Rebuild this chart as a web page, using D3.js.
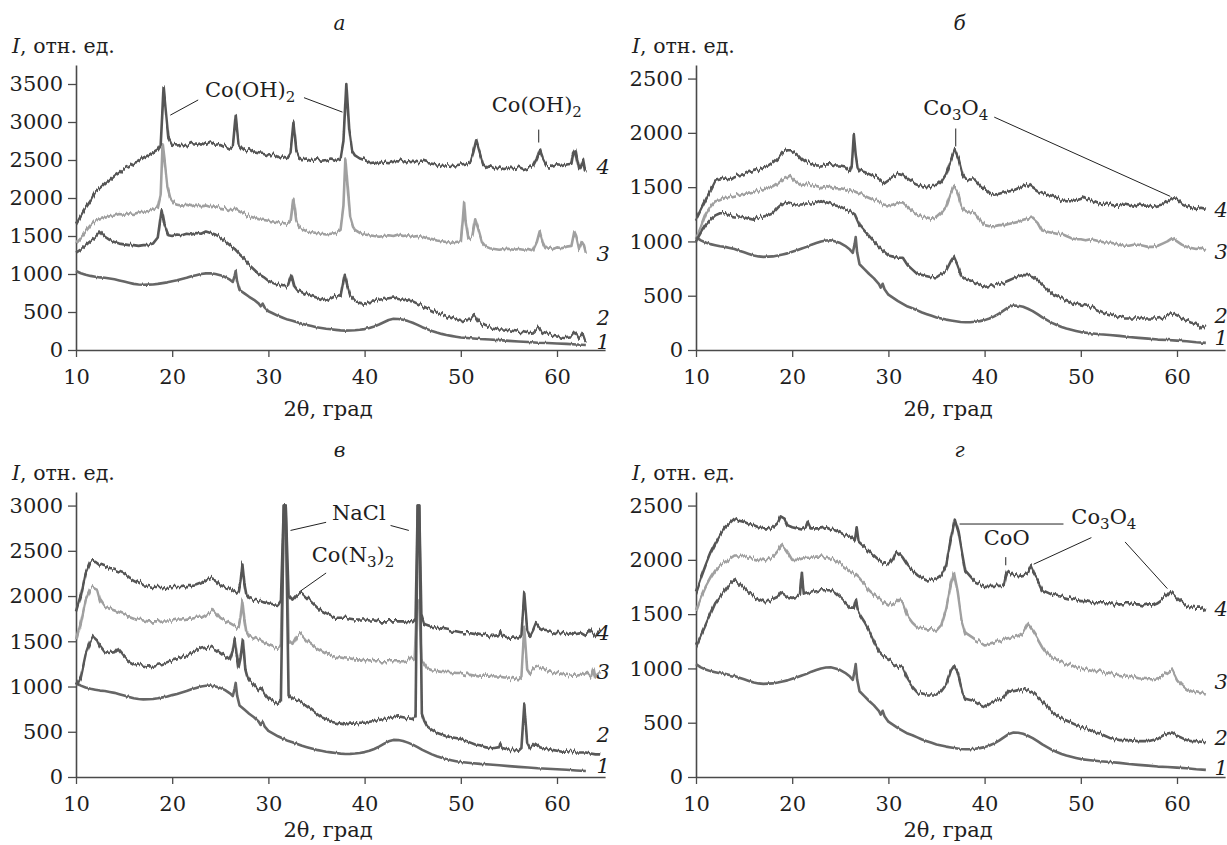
<!DOCTYPE html>
<html>
<head>
<meta charset="utf-8">
<script src="https://d3js.org/d3.v7.min.js"></script>
<style>
  body { margin: 0; background: #fff; }
  svg { display: block; }
  text { font-family: "DejaVu Serif", "Liberation Serif", serif; fill: #1e1e1e; }
</style>
</head>
<body>
<svg id="chart" width="1227" height="845"></svg>
<script>
// ---------- diffraction patterns: [2θ (deg), intensity (rel. units)] ----------

// curve 1 — the same reference pattern shown in every panel
const curve1 = [[10,1040],[10.5,1010],[11,990],[11.5,975],[12,965],[12.5,955],[13,950],[13.5,940],[14,930],[14.5,915],[15,900],[15.5,885],[16,870],[16.5,862],[17,858],[17.5,860],[18,862],[18.5,870],[19,880],[19.5,890],[20,905],[20.5,918],[21,935],[21.5,950],[22,970],[22.5,985],[23,1000],[23.5,1008],[24,1010],[24.5,1000],[25,985],[25.5,960],[26,925],[26.3,895],[26.5,980],[26.6,1040],[26.75,900],[27,790],[27.5,745],[28,700],[28.5,660],[29,610],[29.2,575],[29.4,610],[29.6,560],[30,510],[30.5,480],[31,450],[31.5,425],[32,400],[32.5,385],[33,365],[33.5,345],[34,330],[34.5,315],[35,300],[35.5,290],[36,280],[36.5,272],[37,265],[37.5,258],[38,255],[38.5,256],[39,260],[39.5,266],[40,275],[40.5,290],[41,310],[41.5,335],[42,365],[42.5,395],[43,410],[43.5,408],[44,398],[44.5,380],[45,358],[45.5,330],[46,300],[46.5,275],[47,250],[47.5,230],[48,212],[48.5,198],[49,186],[49.5,175],[50,165],[51,155],[52,145],[53,138],[54,130],[55,120],[56,112],[57,105],[58,96],[59,92],[60,86],[61,80],[62,72],[63,66]];

// panel а
const a2 = [[10,1280],[10.5,1320],[11,1380],[11.5,1430],[12,1480],[12.5,1560],[13,1490],[13.5,1450],[14,1420],[14.5,1400],[15,1390],[15.5,1380],[16,1380],[16.5,1370],[17,1380],[17.5,1380],[18,1400],[18.5,1480],[18.9,1850],[19.2,1650],[19.6,1510],[20,1500],[20.5,1520],[21,1510],[21.5,1530],[22,1520],[22.5,1540],[23,1530],[23.5,1560],[24,1540],[24.5,1520],[25,1480],[25.5,1430],[26,1380],[26.5,1330],[27,1260],[27.5,1200],[28,1120],[28.5,1060],[29,1000],[29.5,960],[30,910],[30.5,880],[31,860],[31.5,840],[32,840],[32.4,990],[32.7,840],[33,790],[33.5,760],[34,730],[34.5,710],[35,690],[35.5,670],[36,650],[36.5,680],[37,710],[37.5,700],[37.8,900],[37.95,990],[38.2,850],[38.5,720],[39,650],[39.5,620],[40,610],[40.5,630],[41,640],[41.5,660],[42,670],[42.5,680],[43,690],[43.5,670],[44,660],[44.5,650],[45,640],[45.5,610],[46,580],[46.5,550],[47,520],[47.5,490],[48,470],[48.5,450],[49,420],[49.5,400],[50,380],[50.5,390],[51,400],[51.4,460],[51.8,380],[52.2,340],[52.5,320],[53,300],[53.5,290],[54,270],[54.5,270],[55,260],[55.5,250],[56,240],[56.5,235],[57,220],[57.5,230],[58.1,300],[58.5,240],[59,220],[59.5,200],[60,190],[60.5,175],[61,170],[61.5,180],[61.8,230],[62.1,200],[62.3,150],[62.5,170],[62.7,210],[62.9,140],[63,120]];
const a3 = [[10,1400],[10.5,1470],[11,1560],[11.5,1640],[12,1700],[12.5,1720],[13,1740],[13.5,1760],[14,1770],[14.5,1790],[15,1780],[15.5,1800],[16,1790],[16.5,1810],[17,1820],[17.5,1830],[18,1850],[18.5,1880],[18.8,2050],[19.0,2720],[19.2,2500],[19.5,2150],[19.8,2000],[20.2,1930],[20.5,1910],[21,1900],[21.5,1910],[22,1890],[22.5,1910],[23,1890],[23.5,1900],[24,1880],[24.5,1890],[25,1870],[25.5,1860],[26,1840],[26.5,1860],[27,1820],[27.5,1790],[28,1760],[28.5,1740],[29,1720],[29.5,1710],[30,1700],[30.5,1690],[31,1680],[31.5,1670],[32,1660],[32.3,1700],[32.6,1990],[32.9,1700],[33.2,1620],[33.5,1590],[34,1560],[34.5,1550],[35,1540],[35.5,1530],[36,1520],[36.5,1530],[37,1540],[37.5,1580],[37.8,1900],[38.0,2520],[38.2,2200],[38.5,1750],[38.8,1620],[39,1580],[39.5,1540],[40,1520],[40.5,1510],[41,1500],[41.5,1490],[42,1500],[42.5,1510],[43,1500],[43.5,1520],[44,1500],[44.5,1510],[45,1490],[45.5,1500],[46,1490],[46.5,1470],[47,1460],[47.5,1440],[48,1430],[48.5,1420],[49,1410],[49.5,1420],[50,1430],[50.2,1700],[50.35,1950],[50.5,1700],[50.8,1460],[51.2,1500],[51.5,1720],[51.8,1600],[52.2,1420],[52.6,1360],[53,1340],[53.5,1330],[54,1320],[54.5,1330],[55,1330],[55.5,1320],[56,1330],[56.5,1320],[57,1330],[57.5,1310],[57.9,1420],[58.2,1560],[58.5,1420],[58.8,1340],[59.2,1350],[59.6,1330],[60,1350],[60.5,1340],[61,1360],[61.5,1370],[61.8,1560],[62.0,1500],[62.3,1330],[62.6,1420],[62.8,1380],[63,1280]];
const a4 = [[10,1650],[10.5,1760],[11,1870],[11.5,1960],[12,2080],[12.5,2120],[13,2180],[13.5,2230],[14,2290],[14.5,2330],[15,2390],[15.5,2420],[16,2460],[16.5,2480],[17,2530],[17.5,2560],[18,2600],[18.5,2640],[18.8,2700],[19.0,3200],[19.1,3470],[19.3,3200],[19.6,2800],[20,2700],[20.5,2690],[21,2700],[21.5,2680],[22,2710],[22.5,2700],[23,2720],[23.5,2700],[24,2730],[24.5,2700],[25,2710],[25.5,2680],[26,2650],[26.3,2680],[26.6,3080],[26.9,2700],[27.2,2650],[27.5,2620],[28,2640],[28.5,2600],[29,2590],[29.5,2580],[30,2560],[30.5,2570],[31,2540],[31.5,2560],[32,2540],[32.3,2600],[32.6,2990],[32.9,2620],[33.2,2530],[33.5,2510],[34,2520],[34.5,2500],[35,2510],[35.5,2490],[36,2500],[36.5,2520],[37,2500],[37.5,2520],[37.8,2750],[38.1,3500],[38.4,2900],[38.7,2620],[39,2560],[39.5,2520],[40,2500],[40.5,2470],[41,2480],[41.5,2460],[42,2480],[42.5,2470],[43,2490],[43.5,2480],[44,2500],[44.5,2480],[45,2490],[45.5,2470],[46,2480],[46.5,2460],[47,2450],[47.5,2440],[48,2420],[48.5,2430],[49,2420],[49.5,2430],[50,2440],[50.5,2450],[51,2480],[51.3,2600],[51.6,2760],[51.9,2620],[52.3,2450],[52.7,2400],[53,2420],[53.5,2390],[54,2400],[54.5,2380],[55,2400],[55.5,2390],[56,2410],[56.5,2380],[57,2400],[57.5,2420],[57.9,2520],[58.2,2630],[58.5,2520],[58.9,2420],[59.5,2410],[60,2430],[60.5,2420],[61,2440],[61.5,2450],[61.7,2600],[61.9,2640],[62.1,2500],[62.3,2380],[62.5,2420],[62.7,2490],[62.9,2350],[63,2380]];

// panel б
const b2 = [[10,1000],[10.5,1080],[11,1150],[11.5,1200],[12,1240],[12.5,1260],[13,1260],[13.5,1240],[14,1230],[14.5,1230],[15,1220],[15.5,1210],[16,1200],[16.5,1220],[17,1230],[17.5,1240],[18,1260],[18.5,1310],[19,1350],[19.5,1360],[20,1350],[20.5,1340],[21,1340],[21.5,1350],[22,1350],[22.5,1360],[23,1380],[23.5,1360],[24,1350],[24.5,1330],[25,1320],[25.5,1300],[26,1280],[26.5,1250],[27,1150],[27.5,1100],[28,1050],[28.5,1000],[29,950],[29.5,910],[30,870],[30.5,860],[31,850],[31.5,850],[32,780],[32.5,740],[33,700],[33.5,690],[34,680],[34.5,670],[35,670],[35.5,700],[36,730],[36.5,820],[36.8,860],[37.2,780],[37.6,680],[38,650],[38.5,640],[39,620],[39.5,600],[40,580],[40.5,590],[41,600],[41.5,610],[42,620],[42.5,640],[43,660],[43.5,680],[44,690],[44.5,690],[45,680],[45.5,640],[46,600],[46.5,560],[47,520],[47.5,500],[48,480],[48.5,460],[49,440],[49.5,430],[50,420],[50.5,410],[51,400],[51.5,380],[52,360],[52.5,340],[53,330],[53.5,320],[54,310],[54.5,300],[55,300],[55.5,300],[56,300],[56.5,290],[57,290],[57.5,290],[58,290],[58.5,300],[59,320],[59.5,330],[60,310],[60.5,290],[61,270],[61.5,250],[62,240],[62.5,200],[63,230]];
const b3 = [[10,1020],[10.5,1130],[11,1250],[11.5,1320],[12,1370],[12.5,1380],[13,1400],[13.5,1410],[14,1420],[14.5,1430],[15,1440],[15.5,1440],[16,1450],[16.5,1470],[17,1480],[17.5,1490],[18,1500],[18.5,1530],[19,1570],[19.5,1590],[19.8,1610],[20.2,1570],[20.5,1550],[21,1520],[21.5,1530],[22,1520],[22.5,1510],[23,1500],[23.5,1510],[24,1500],[24.5,1490],[25,1490],[25.5,1480],[26,1470],[26.5,1460],[27,1440],[27.5,1420],[28,1400],[28.5,1380],[29,1370],[29.5,1340],[30,1330],[30.5,1340],[31,1360],[31.5,1360],[32,1320],[32.5,1280],[33,1250],[33.5,1230],[34,1220],[34.5,1210],[35,1220],[35.5,1260],[36,1320],[36.5,1450],[36.8,1510],[37.2,1450],[37.6,1320],[38,1280],[38.5,1270],[39,1260],[39.5,1200],[40,1150],[40.5,1140],[41,1140],[41.5,1150],[42,1150],[42.5,1160],[43,1170],[43.5,1180],[44,1200],[44.5,1210],[45,1220],[45.5,1180],[46,1100],[46.5,1090],[47,1080],[47.5,1070],[48,1070],[48.5,1050],[49,1030],[49.5,1020],[50,1020],[50.5,1010],[51,1020],[51.5,1010],[52,1000],[52.5,990],[53,990],[53.5,980],[54,970],[54.5,960],[55,960],[55.5,970],[56,970],[56.5,960],[57,950],[57.5,950],[58,960],[58.5,980],[59,1000],[59.5,1030],[60,1000],[60.5,970],[61,950],[61.5,940],[62,930],[62.5,940],[63,920]];
const b4 = [[10,1200],[10.5,1290],[11,1380],[11.5,1470],[12,1560],[12.5,1570],[13,1580],[13.5,1570],[14,1600],[14.5,1610],[15,1620],[15.5,1640],[16,1650],[16.5,1660],[17,1680],[17.5,1690],[18,1720],[18.5,1760],[19,1820],[19.5,1840],[20,1840],[20.5,1810],[21,1760],[21.5,1730],[22,1720],[22.5,1700],[23,1700],[23.5,1710],[24,1710],[24.5,1700],[25,1700],[25.5,1690],[26,1650],[26.2,1700],[26.4,1990],[26.6,1800],[26.8,1680],[27,1650],[27.5,1640],[28,1620],[28.5,1600],[29,1580],[29.5,1540],[30,1570],[30.5,1600],[31,1630],[31.5,1620],[32,1580],[32.5,1550],[33,1530],[33.5,1510],[34,1500],[34.5,1510],[35,1510],[35.5,1550],[36,1620],[36.5,1750],[36.9,1850],[37.3,1760],[37.7,1620],[38,1580],[38.5,1570],[39,1570],[39.5,1520],[40,1480],[40.5,1440],[41,1430],[41.5,1440],[42,1450],[42.5,1460],[43,1470],[43.5,1490],[44,1510],[44.5,1530],[45,1500],[45.5,1470],[46,1450],[46.5,1430],[47,1420],[47.5,1400],[48,1380],[48.5,1370],[49,1370],[49.5,1380],[50,1390],[50.3,1410],[50.7,1390],[51,1380],[51.5,1360],[52,1340],[52.5,1350],[53,1340],[53.5,1330],[54,1330],[54.5,1340],[55,1330],[55.5,1320],[56,1340],[56.5,1330],[57,1330],[57.5,1320],[58,1330],[58.5,1340],[59,1370],[59.5,1400],[60,1390],[60.5,1350],[61,1330],[61.5,1310],[62,1300],[62.5,1310],[63,1300]];

// panel в (NaCl reflections run off the top of the scale at 3000)
const c2 = [[10,1000],[10.5,1100],[11,1350],[11.5,1500],[11.8,1560],[12.2,1520],[12.5,1450],[13,1380],[13.5,1370],[14,1380],[14.3,1420],[14.7,1370],[15,1330],[15.5,1280],[16,1250],[16.5,1240],[17,1230],[17.5,1220],[18,1230],[18.5,1240],[19,1250],[19.5,1270],[20,1290],[20.5,1300],[21,1320],[21.5,1340],[22,1370],[22.5,1390],[23,1420],[23.5,1430],[24,1440],[24.5,1420],[25,1380],[25.5,1340],[26,1300],[26.3,1400],[26.5,1530],[26.7,1350],[26.9,1200],[27.1,1300],[27.35,1520],[27.6,1200],[27.8,1120],[28,1080],[28.5,1020],[29,960],[29.3,980],[29.6,920],[30,870],[30.5,840],[31,810],[31.3,850],[31.6,3000],[31.8,3000],[32.1,900],[32.5,860],[33,850],[33.5,820],[34,780],[34.5,740],[35,700],[35.5,660],[36,640],[36.5,610],[37,600],[37.5,590],[38,580],[38.5,590],[39,590],[39.5,600],[40,600],[40.5,610],[41,620],[41.5,630],[42,640],[42.5,650],[43,660],[43.5,670],[44,660],[44.5,650],[45,640],[45.3,680],[45.52,3000],[45.68,3000],[45.95,700],[46.2,620],[46.5,560],[47,520],[47.5,490],[48,470],[48.5,450],[49,440],[49.5,430],[50,420],[50.5,400],[51,380],[51.5,360],[52,350],[52.5,330],[53,320],[53.5,320],[54,330],[54.1,370],[54.3,320],[55,300],[55.5,300],[56,290],[56.3,320],[56.6,800],[56.9,380],[57.2,320],[57.7,370],[58.2,330],[58.5,320],[59,310],[59.5,300],[60,290],[60.5,280],[61,280],[61.5,290],[62,270],[62.5,270],[63,270],[63.5,260],[64,250],[64.5,250]];
const c3 = [[10,1500],[10.5,1700],[11,1950],[11.5,2080],[11.8,2100],[12.2,2080],[12.5,1960],[13,1880],[13.5,1860],[14,1840],[14.5,1820],[15,1800],[15.5,1780],[16,1760],[16.5,1740],[17,1730],[17.5,1720],[18,1720],[18.5,1720],[19,1730],[19.5,1730],[20,1730],[20.5,1740],[21,1740],[21.5,1750],[22,1750],[22.5,1760],[23,1760],[23.5,1790],[24,1820],[24.3,1850],[24.7,1800],[25,1760],[25.5,1730],[26,1700],[26.5,1670],[26.9,1640],[27.1,1750],[27.3,1950],[27.5,1750],[27.7,1620],[28,1560],[28.5,1540],[29,1520],[29.5,1490],[30,1460],[30.5,1440],[31,1430],[31.3,1460],[31.6,2900],[31.8,2900],[32.1,1500],[32.5,1460],[33,1560],[33.3,1580],[33.7,1540],[34,1500],[34.5,1460],[35,1420],[35.5,1390],[36,1360],[36.5,1340],[37,1330],[37.5,1320],[38,1310],[38.5,1310],[39,1300],[39.5,1300],[40,1290],[40.5,1290],[41,1280],[41.5,1280],[42,1280],[42.5,1280],[43,1280],[43.5,1280],[44,1280],[44.5,1290],[44.8,1320],[45.2,1300],[45.45,1950],[45.65,1950],[45.9,1300],[46.2,1250],[46.5,1200],[47,1180],[47.5,1170],[48,1160],[48.5,1160],[49,1160],[49.5,1150],[50,1150],[50.5,1140],[51,1140],[51.5,1130],[52,1120],[52.5,1120],[53,1120],[53.5,1110],[54,1110],[54.5,1100],[55,1100],[55.5,1090],[56,1080],[56.3,1100],[56.6,1650],[56.9,1200],[57.2,1150],[57.5,1200],[58,1220],[58.5,1200],[59,1170],[59.5,1160],[60,1150],[60.5,1140],[61,1130],[61.5,1120],[62,1120],[62.5,1130],[63,1150],[63.5,1100],[63.8,1200],[64,1100],[64.5,1150]];
const c4 = [[10,1820],[10.5,2000],[11,2250],[11.5,2380],[12,2390],[12.5,2350],[13,2330],[13.5,2300],[14,2290],[14.5,2270],[15,2250],[15.5,2210],[16,2180],[16.5,2150],[17,2120],[17.5,2110],[18,2100],[18.5,2100],[19,2100],[19.5,2090],[20,2100],[20.5,2100],[21,2100],[21.5,2110],[22,2110],[22.5,2120],[23,2140],[23.5,2180],[24,2200],[24.5,2180],[25,2120],[25.5,2100],[26,2080],[26.5,2050],[26.9,2030],[27.1,2150],[27.3,2360],[27.5,2150],[27.7,2030],[28,1980],[28.5,1960],[29,1950],[29.5,1930],[30,1920],[30.5,1910],[31,1900],[31.3,1950],[31.6,3000],[31.8,3000],[32.1,2000],[32.5,1950],[33,2010],[33.5,2030],[34,1980],[34.5,1930],[35,1880],[35.5,1830],[36,1800],[36.5,1780],[37,1760],[37.5,1760],[38,1760],[38.5,1750],[39,1740],[39.5,1740],[40,1740],[40.5,1730],[41,1730],[41.5,1720],[42,1720],[42.5,1720],[43,1720],[43.5,1720],[44,1720],[44.5,1710],[45,1710],[45.3,1750],[45.52,3000],[45.68,3000],[45.9,1800],[46.2,1690],[46.5,1680],[47,1660],[47.5,1650],[48,1640],[48.5,1630],[49,1620],[49.5,1610],[50,1600],[50.5,1600],[51,1600],[51.5,1590],[52,1580],[52.5,1570],[53,1560],[53.5,1560],[54,1570],[54.1,1610],[54.3,1560],[55,1540],[55.5,1540],[56,1530],[56.3,1560],[56.6,2040],[56.9,1640],[57.2,1560],[57.5,1620],[57.8,1700],[58.2,1640],[58.5,1620],[59,1610],[59.5,1600],[60,1590],[60.5,1590],[61,1580],[61.5,1590],[62,1580],[62.5,1590],[63,1560],[63.5,1620],[64,1560],[64.5,1620]];

// panel г
const d2 = [[10,1200],[10.5,1300],[11,1400],[11.5,1500],[12,1600],[12.5,1660],[13,1720],[13.5,1780],[14,1820],[14.5,1780],[15,1740],[15.5,1700],[16,1660],[16.5,1640],[17,1620],[17.5,1620],[18,1640],[18.5,1660],[18.8,1700],[19.2,1680],[19.5,1660],[20,1650],[20.5,1660],[20.8,1680],[21.0,1880],[21.2,1680],[21.5,1690],[22,1700],[22.5,1710],[23,1720],[23.5,1720],[24,1720],[24.5,1690],[25,1650],[25.5,1610],[26,1560],[26.4,1560],[26.6,1630],[26.8,1540],[27,1500],[27.5,1430],[28,1350],[28.5,1250],[29,1160],[29.5,1110],[30,1080],[30.5,1050],[31,1020],[31.5,1000],[32,900],[32.5,830],[33,780],[33.5,770],[34,760],[34.5,760],[35,760],[35.5,790],[36,850],[36.5,980],[36.8,1020],[37.2,960],[37.7,780],[38,720],[38.5,710],[39,700],[39.5,670],[40,650],[40.5,680],[41,700],[41.5,710],[42,730],[42.5,800],[43,790],[43.5,800],[44,810],[44.5,800],[45,780],[45.5,740],[46,700],[46.5,650],[47,600],[47.5,570],[48,540],[48.5,520],[49,500],[49.5,480],[50,460],[50.5,450],[51,430],[51.5,410],[52,400],[52.5,380],[53,360],[53.5,350],[54,340],[54.5,340],[55,340],[55.5,335],[56,330],[56.5,330],[57,330],[57.5,340],[58,350],[58.5,380],[59,400],[59.5,410],[60,380],[60.5,360],[61,340],[61.5,330],[62,330],[62.5,325],[63,320]];
const d3 = [[10,1530],[10.5,1650],[11,1750],[11.5,1830],[12,1900],[12.5,1950],[13,1980],[13.5,2010],[14,2040],[14.5,2040],[15,2030],[15.5,2020],[16,2010],[16.5,2000],[17,2000],[17.5,2010],[18,2030],[18.5,2080],[18.9,2140],[19.3,2100],[19.6,2060],[20,2000],[20.5,2000],[21,2010],[21.5,2020],[22,2020],[22.5,2030],[23,2030],[23.5,2020],[24,2010],[24.5,1990],[25,1960],[25.5,1930],[26,1900],[26.5,1870],[27,1830],[27.5,1780],[28,1720],[28.5,1680],[29,1650],[29.5,1610],[30,1580],[30.5,1600],[31,1640],[31.5,1600],[32,1480],[32.5,1420],[33,1380],[33.5,1370],[34,1360],[34.5,1360],[35,1350],[35.5,1400],[36,1550],[36.5,1780],[36.8,1880],[37.2,1700],[37.6,1450],[38,1330],[38.5,1300],[39,1270],[39.5,1250],[40,1220],[40.5,1230],[41,1240],[41.5,1250],[42,1270],[42.5,1280],[43,1290],[43.5,1300],[44,1330],[44.5,1410],[45,1350],[45.5,1280],[46,1200],[46.5,1140],[47,1100],[47.5,1080],[48,1060],[48.5,1040],[49,1030],[49.5,1010],[50,1000],[50.5,990],[51,980],[51.5,975],[52,970],[52.5,960],[53,950],[53.5,945],[54,940],[54.5,935],[55,930],[55.5,920],[56,910],[56.5,905],[57,900],[57.5,900],[58,910],[58.5,930],[59,960],[59.5,990],[60,900],[60.5,850],[61,810],[61.5,790],[62,780],[62.5,770],[63,760]];
const d4 = [[10,1700],[10.5,1830],[11,1950],[11.5,2060],[12,2150],[12.5,2230],[13,2300],[13.5,2340],[14,2380],[14.5,2360],[15,2350],[15.5,2330],[16,2320],[16.5,2300],[17,2290],[17.5,2290],[18,2300],[18.5,2340],[18.8,2400],[19.2,2380],[19.5,2320],[20,2300],[20.5,2290],[21,2280],[21.4,2300],[21.6,2350],[21.9,2290],[22.5,2290],[23,2290],[23.5,2300],[24,2280],[24.5,2270],[25,2250],[25.5,2230],[26,2220],[26.5,2180],[26.7,2300],[26.9,2170],[27,2160],[27.5,2120],[28,2080],[28.5,2040],[29,2000],[29.5,1970],[30,1960],[30.5,2020],[30.8,2080],[31.2,2050],[31.5,2020],[32,1950],[32.5,1900],[33,1860],[33.5,1830],[34,1810],[34.5,1820],[35,1830],[35.5,1860],[36,1950],[36.5,2200],[36.9,2370],[37.3,2250],[37.7,2050],[38,1900],[38.5,1850],[39,1800],[39.5,1780],[40,1760],[40.5,1760],[41,1760],[41.5,1760],[42,1760],[42.2,1850],[42.4,1900],[42.7,1880],[43,1860],[43.5,1850],[44,1860],[44.5,1880],[44.8,1940],[45.1,1880],[45.5,1820],[46,1720],[46.5,1700],[47,1680],[47.5,1670],[48,1660],[48.5,1650],[49,1640],[49.5,1630],[50,1620],[50.5,1620],[51,1610],[51.5,1600],[52,1600],[52.5,1600],[53,1600],[53.5,1590],[54,1600],[54.5,1600],[55,1600],[55.5,1590],[56,1590],[56.5,1580],[57,1590],[57.5,1590],[58,1610],[58.5,1640],[59,1680],[59.3,1710],[59.7,1680],[60,1650],[60.5,1610],[61,1580],[61.5,1570],[62,1560],[62.5,1560],[63,1530]];

// axis ticks
const xTicks = [10, 20, 30, 40, 50, 60];
const yTicksA = [0, 500, 1000, 1500, 2000, 2500, 3000, 3500];
const yTicksB = [0, 500, 1000, 1500, 2000, 2500];
const yTicksC = [0, 500, 1000, 1500, 2000, 2500, 3000];
const yTicksD = [0, 500, 1000, 1500, 2000, 2500];

// curve numbers and the intensity level where each number sits
const curveNames = ["1", "2", "3", "4"];
const nameLevelsA = [105, 425, 1270, 2410];
const nameLevelsB = [110, 320, 905, 1295];
const nameLevelsC = [130, 470, 1160, 1600];
const nameLevelsD = [85, 365, 874, 1550];

// ---------- layout ----------
const PX_PER_DEG = 9.62;
const FS = 21;            // main text size
const panels = [
  { title: "а", left: 76,  base: 350, top: 65,  yMax: 3750, ticks: yTicksA, curves: [curve1, a2, a3, a4], names: nameLevelsA, nameX: 64.8, capDy: 66 },
  { title: "б", left: 696, base: 350, top: 65,  yMax: 2625, ticks: yTicksB, curves: [curve1, b2, b3, b4], names: nameLevelsB, nameX: 64.6, capDy: 66 },
  { title: "в", left: 76,  base: 777, top: 492, yMax: 3150, ticks: yTicksC, curves: [curve1, c2, c3, c4], names: nameLevelsC, nameX: 64.8, capDy: 60 },
  { title: "г", left: 696, base: 777, top: 492, yMax: 2625, ticks: yTicksD, curves: [curve1, d2, d3, d4], names: nameLevelsD, nameX: 64.6, capDy: 60 }
];

// phase labels: text pieces ([string, isSubscript]) and leader lines, in data coordinates
const notes = [
  [ { text: [["Co(OH)", 0], ["2", 1]], x: 28.1, y: 3330,
      lines: [[[19.8, 3090], [22.7, 3290]], [[33.7, 3320], [37.7, 3130]]] },
    { text: [["Co(OH)", 0], ["2", 1]], x: 57.9, y: 3130,
      lines: [[[58.1, 2900], [58.1, 2730]]] } ],
  [ { text: [["Co", 0], ["3", 1], ["O", 0], ["4", 1]], x: 37.0, y: 2160,
      lines: [[[37.0, 2040], [37.0, 1875]], [[41.0, 2145], [59.3, 1415]]] } ],
  [ { text: [["NaCl", 0]], x: 39.4, y: 2840,
      lines: [[[32.3, 2725], [36.0, 2815]], [[42.7, 2780], [44.6, 2725]]] },
    { text: [["Co(N", 0], ["3", 1], [")", 0], ["2", 1]], x: 38.8, y: 2380,
      lines: [[[36.0, 2255], [33.2, 2045]]] } ],
  [ { text: [["Co", 0], ["3", 1], ["O", 0], ["4", 1]], x: 52.4, y: 2330,
      lines: [[[37.4, 2330], [48.2, 2330]], [[51.1, 2205], [45.1, 1960]], [[54.6, 2165], [59.0, 1735]]] },
    { text: [["CoO", 0]], x: 42.3, y: 2135,
      lines: [[[42.2, 2025], [42.2, 1950]]] } ]
];

// ---------- drawing ----------
const D3 = window.d3;
const svg = D3.select("#chart");
const defs = svg.append("defs");

// counting-noise texture: vertical-only jitter that changes quickly along 2θ
function jitterFilter(id, amount, seed) {
  const f = defs.append("filter").attr("id", id).attr("filterUnits", "userSpaceOnUse")
    .attr("x", 0).attr("y", 0).attr("width", 1227).attr("height", 845);
  f.append("feTurbulence").attr("type", "fractalNoise")
    .attr("baseFrequency", "0.5 0.004").attr("numOctaves", 2).attr("seed", seed).attr("result", "n");
  f.append("feColorMatrix").attr("in", "n").attr("type", "matrix")
    .attr("values", "0 0 0 0 0.5  0 1 0 0 0  0 0 1 0 0  0 0 0 0 1").attr("result", "m");
  f.append("feDisplacementMap").attr("in", "SourceGraphic").attr("in2", "m")
    .attr("scale", amount).attr("xChannelSelector", "R").attr("yChannelSelector", "G");
}
jitterFilter("rough", 7, 3);
jitterFilter("smooth", 2.5, 7);

const lineColors = ["#666666", "#585858", "#a0a0a0", "#555555"];
const drawOrder = [2, 0, 1, 3];

panels.forEach((p, pi) => {
  const x = D3.scaleLinear().domain([10, 65]).range([p.left, p.left + 55 * PX_PER_DEG]);
  const y = D3.scaleLinear().domain([0, p.yMax]).range([p.base, p.top]);
  const g = svg.append("g");

  // axes
  const yAxis = D3.axisLeft(y).tickValues(p.ticks).tickFormat(D3.format("d"))
    .tickSize(8).tickSizeOuter(0).tickPadding(5);
  const xAxis = D3.axisBottom(x).tickValues(xTicks).tickFormat(D3.format("d"))
    .tickSize(7).tickSizeOuter(0).tickPadding(12);
  [g.append("g").attr("transform", `translate(${p.left},0)`).call(yAxis),
   g.append("g").attr("transform", `translate(0,${p.base})`).call(xAxis)]
    .forEach(ax => {
      ax.select(".domain").attr("stroke", "#4a4a4a").attr("stroke-width", 1.6);
      ax.selectAll(".tick line").attr("stroke", "#4a4a4a").attr("stroke-width", 1.3);
      ax.selectAll(".tick text").attr("font-family", "DejaVu Serif").attr("font-size", FS).attr("fill", "#1e1e1e");
    });

  // panel letter and axis captions
  const midX = p.left + 27.4 * PX_PER_DEG;
  g.append("text").attr("x", midX).attr("y", p.base - 320).attr("text-anchor", "middle")
    .attr("font-size", 20).attr("font-style", "italic").text(p.title);
  const yl = g.append("text").attr("x", p.left - 64).attr("y", p.base - 297).attr("font-size", 20.5);
  yl.append("tspan").attr("font-style", "italic").text("I");
  yl.append("tspan").text(", отн. ед.");
  g.append("text").attr("x", p.left + 26.2 * PX_PER_DEG).attr("y", p.base + p.capDy)
    .attr("text-anchor", "middle").attr("font-size", FS).text("2θ, град");

  // patterns
  const line = D3.line().x(d => x(d[0])).y(d => y(d[1]));
  drawOrder.forEach(ci => {
    g.append("path").datum(p.curves[ci])
      .attr("d", line).attr("fill", "none")
      .attr("stroke", lineColors[ci]).attr("stroke-width", 2.6)
      .attr("stroke-linejoin", "round")
      .attr("filter", ci === 0 ? "url(#smooth)" : "url(#rough)");
  });

  // curve numbers
  p.names.forEach((v, i) => {
    g.append("text").attr("x", x(p.nameX)).attr("y", y(v)).attr("dy", "0.35em")
      .attr("text-anchor", "middle").attr("font-size", FS).attr("font-style", "italic")
      .text(curveNames[i]);
  });

  // phase annotations
  notes[pi].forEach(n => {
    const t = g.append("text").attr("x", x(n.x)).attr("y", y(n.y)).attr("dy", "0.35em")
      .attr("text-anchor", "middle").attr("font-size", FS);
    n.text.forEach(([s, sub], k) => {
      t.append("tspan").attr("font-size", sub ? 15 : FS)
        .attr("dy", sub ? 5 : (k > 0 ? -5 : 0)).text(s);
    });
    n.lines.forEach(l => {
      g.append("line").attr("x1", x(l[0][0])).attr("y1", y(l[0][1]))
        .attr("x2", x(l[1][0])).attr("y2", y(l[1][1]))
        .attr("stroke", "#222").attr("stroke-width", 1);
    });
  });
});
</script>
</body>
</html>
